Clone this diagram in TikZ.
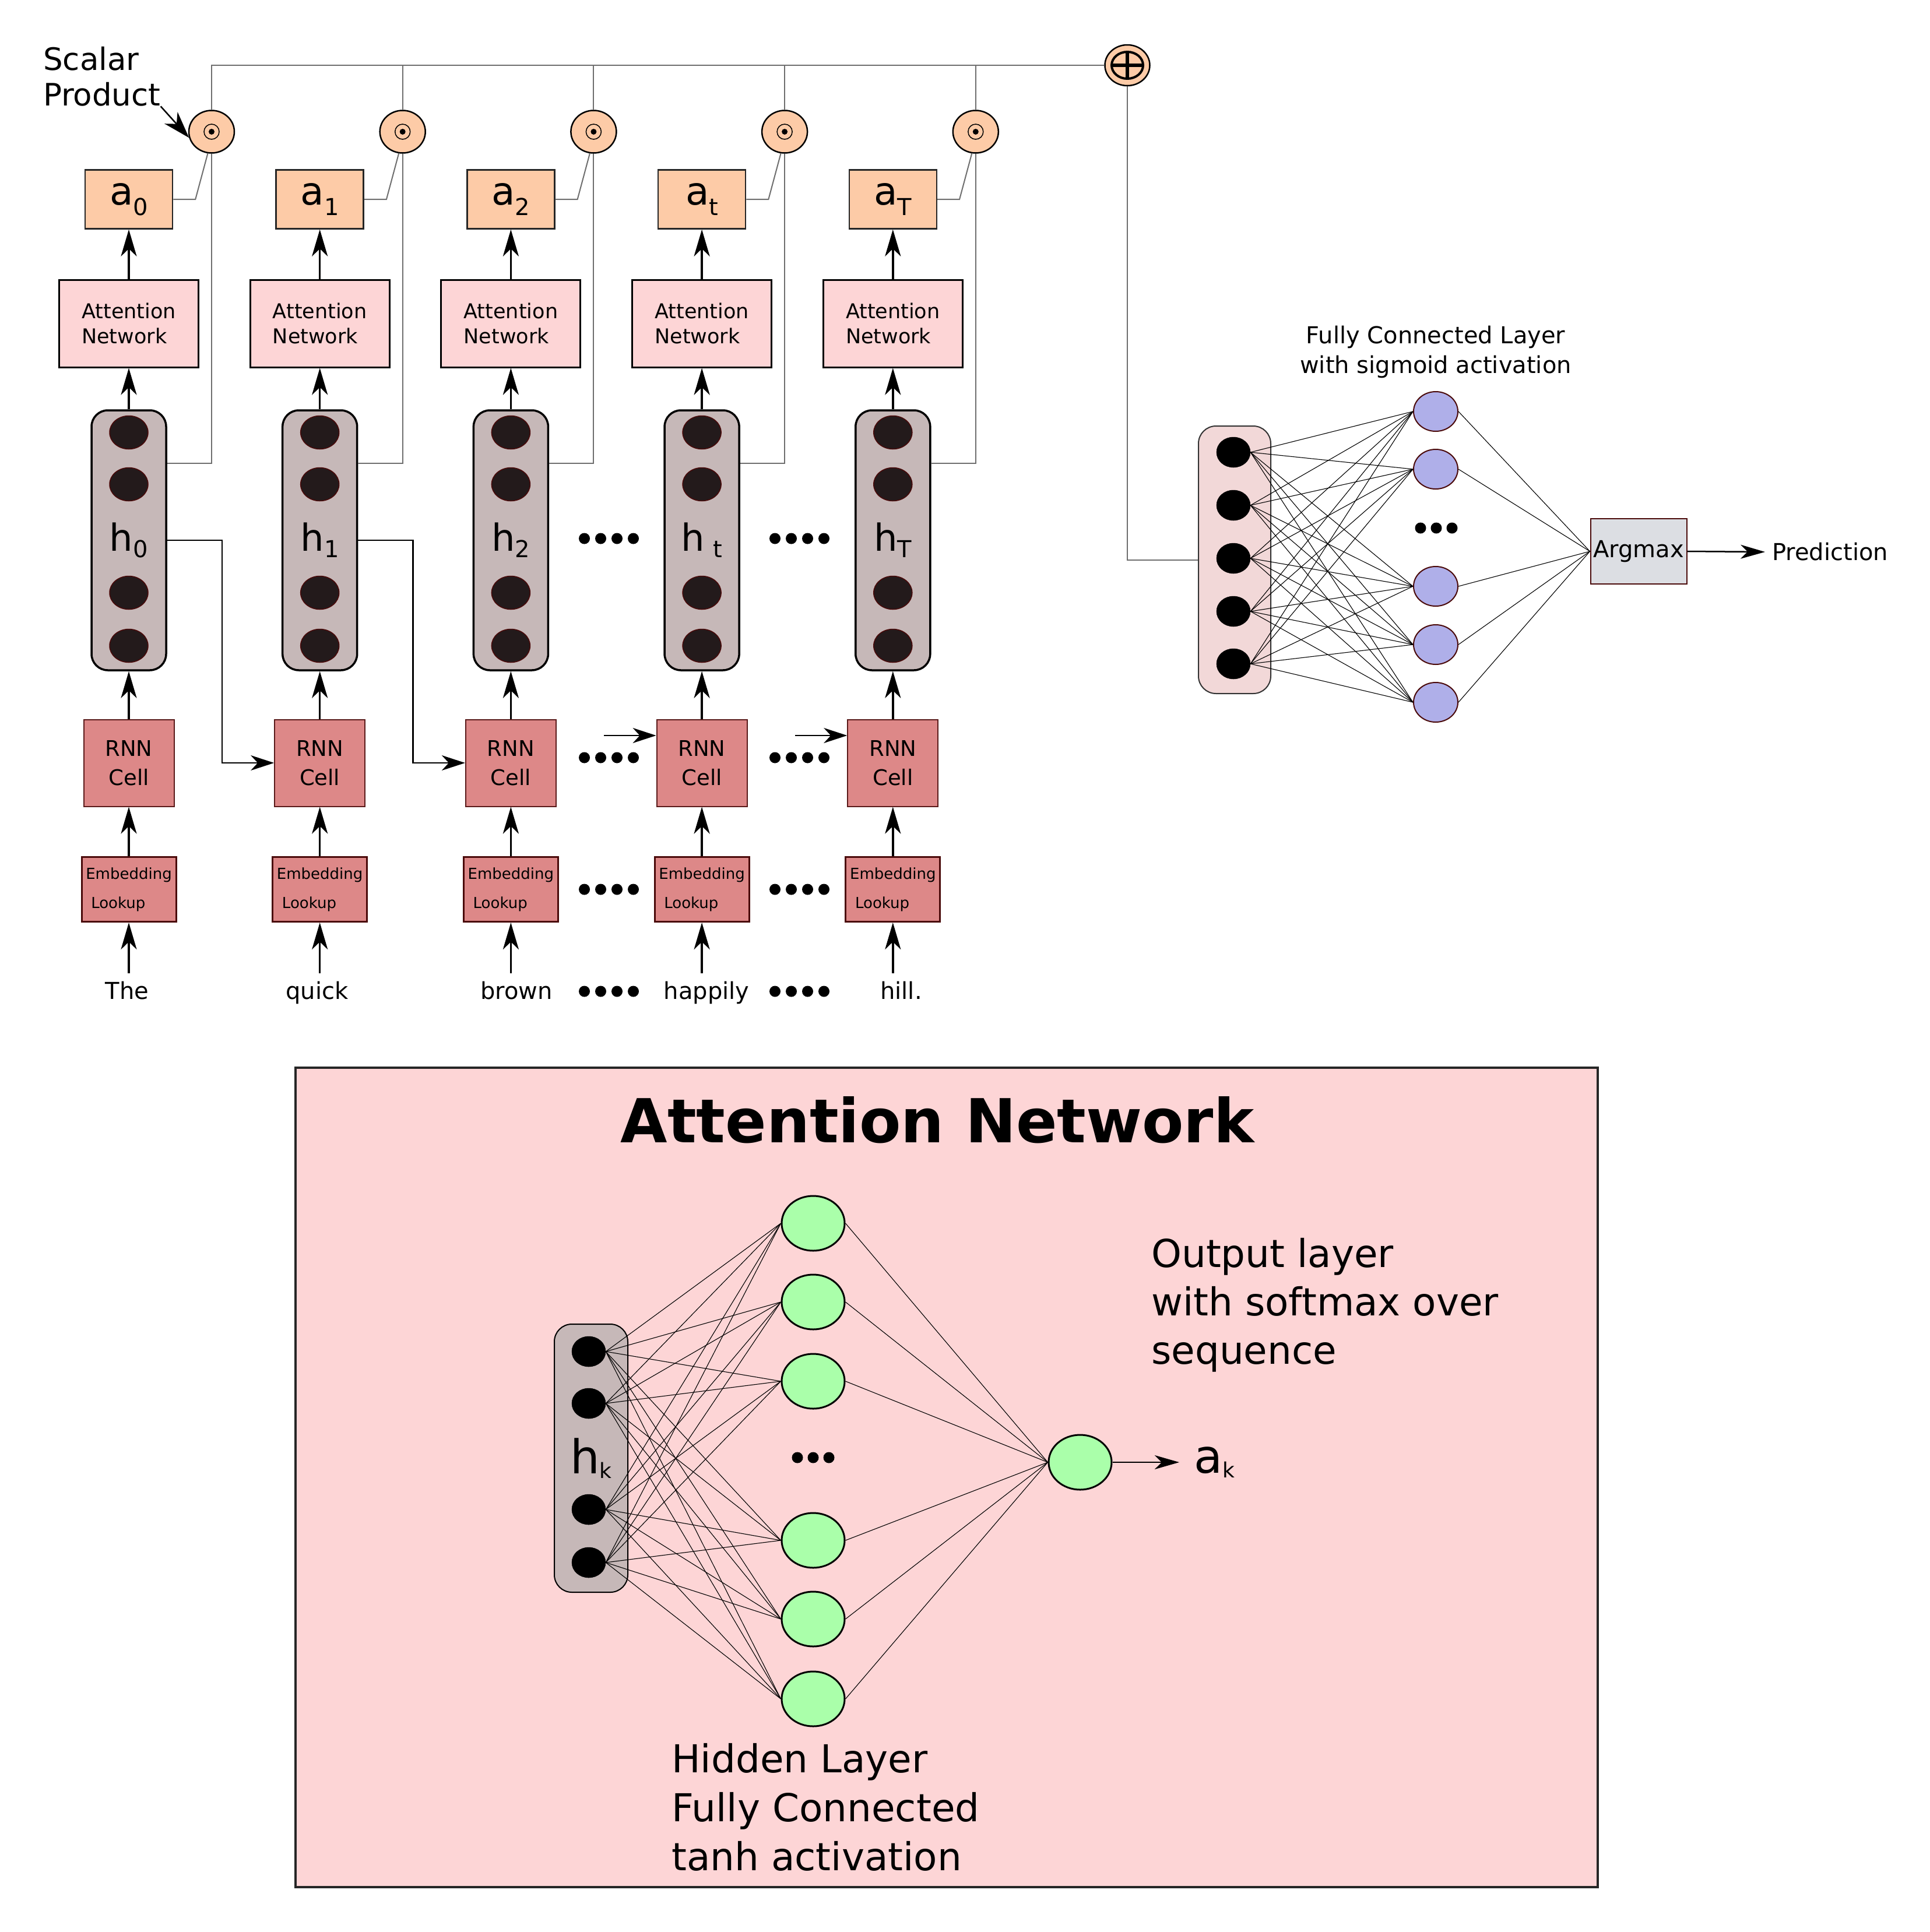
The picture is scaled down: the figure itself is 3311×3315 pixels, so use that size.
\documentclass[tikz,border=0pt]{standalone}
\usepackage{fontspec}
\setmainfont{DejaVu Sans}
\usetikzlibrary{arrows.meta,shapes.geometric}
\definecolor{peach}{HTML}{FDCBA7}
\definecolor{attpink}{HTML}{FDD5D6}
\definecolor{hgray}{HTML}{C6B8B8}
\definecolor{hdark}{HTML}{231A1B}
\definecolor{hnborder}{HTML}{4A0A0A}
\definecolor{rnnc}{HTML}{DD8888}
\definecolor{rnnborder}{HTML}{5A1A1A}
\definecolor{rpink}{HTML}{F2D8D8}
\definecolor{purp}{HTML}{AFAFE9}
\definecolor{grn}{HTML}{AAFFAA}
\definecolor{argc}{HTML}{DCDEE3}
\definecolor{glc}{HTML}{6E6E6E}
\newcommand\myfs[2]{\fontsize{#1pt}{#2pt}\selectfont}
\newcommand\sublbl[5]{{\myfs{#1}{#1}#2}\raisebox{-#5pt}{\myfs{#3}{#3}#4}}
\begin{document}
\begin{tikzpicture}[x=1pt,y=-1pt,
  arr/.style={line width=3.5pt,-{Stealth[length=46pt,width=27pt,inset=13pt]}},
  arrr/.style={line width=2.5pt,-{Stealth[length=40pt,width=26pt,inset=12pt]}},
  arr3/.style={line width=2.5pt,-{Stealth[length=42pt,width=24pt,inset=12pt]}},
  gl/.style={line width=2pt,draw=glc},
  nl/.style={line width=1.1pt,draw=black},
  odot/.style={ellipse,draw=black,line width=2.5pt,fill=peach,minimum width=78pt,minimum height=73pt,inner sep=0pt},
  plusc/.style={ellipse,draw=black,line width=2.5pt,fill=peach,minimum width=77pt,minimum height=70pt,inner sep=0pt},
  abox/.style={draw=black!85,line width=2.5pt,fill=peach,minimum width=150pt,minimum height=101pt,inner sep=0pt},
  attbox/.style={draw=black,line width=3pt,fill=attpink,minimum width=239pt,minimum height=150pt,inner sep=0pt,align=left,font=\myfs{35}{43}},
  hbox/.style={draw=black,line width=3.5pt,fill=hgray,rounded corners=28pt,minimum width=128pt,minimum height=446pt,inner sep=0pt},
  hn/.style={ellipse,draw=hnborder,line width=1.5pt,fill=hdark,minimum width=66pt,minimum height=57pt,inner sep=0pt},
  rnn/.style={draw=rnnborder,line width=2pt,fill=rnnc,minimum width=155pt,minimum height=149pt,inner sep=0pt,align=center,font=\myfs{37}{50}},
  emb/.style={draw=hnborder,line width=3pt,fill=rnnc,minimum width=162pt,minimum height=111pt,inner sep=0pt,align=left,font=\myfs{26}{50}},
  word/.style={font=\myfs{40}{40},inner sep=0pt,text height=44pt,anchor=base},
  rbox/.style={draw=black!80,line width=2pt,fill=rpink,rounded corners=30pt,minimum width=124pt,minimum height=459pt,inner sep=0pt},
  bn/.style={ellipse,fill=black,draw=black,line width=0.5pt,minimum width=58pt,minimum height=52pt,inner sep=0pt},
  pn/.style={ellipse,draw=hnborder,line width=2pt,fill=purp,minimum width=76pt,minimum height=68pt,inner sep=0pt},
  gn/.style={ellipse,draw=black,line width=3pt,fill=grn,minimum width=108pt,minimum height=94pt,inner sep=0pt},
  argb/.style={draw=hnborder,line width=2pt,fill=argc,minimum width=165pt,minimum height=112pt,inner sep=0pt,font=\myfs{40}{40}},
  fourdots/.pic={\foreach \k in {-1.5,-0.5,0.5,1.5} \fill (\k*28,0) circle[radius=9.5pt];},
  threedots/.pic={\foreach \k in {-1,0,1} \fill (\k*27,0) circle[radius=9.5pt];}
]
\useasboundingbox (0,0) rectangle (3311,3315);
\fill[white] (0,0) rectangle (3311,3315);

% summation node
\node[plusc] (plus) at (1934,112) {};
\draw[line width=4pt] (plus.center) ellipse[x radius=27pt,y radius=23pt];
\draw[line width=6pt] (plus.center) ++(-27,0) -- ++(54,0);
\draw[line width=6pt] (plus.center) ++(0,-23) -- ++(0,46);

% columns
\foreach \i/\cx/\asub/\hsub/\wrd/\wx in {0/221/0/0/The/218,1/548.7/1/1/quick/544,2/876.4/2/2/brown/886,3/1204.1/t/{\hspace{14pt}t}/happily/1212,4/1531.8/T/T/hill./1546}{
  \node[odot] (o\i) at (\cx+142,226) {};
  \draw[line width=1.5pt] (o\i.center) circle[radius=13pt];
  \fill (o\i.center) circle[radius=5pt];
  \node[abox] (a\i) at (\cx,342) {\sublbl{66}{a}{40}{\asub}{18}};
  \node[attbox] (n\i) at (\cx,555) {Attention\\Network};
  \node[hbox] (h\i) at (\cx,927) {\sublbl{64}{h}{40}{\hsub}{11}};
  \foreach \ny in {742,831,1017,1108} \node[hn] (hn\i-\ny) at (\cx,\ny) {};
  \node[rnn] (r\i) at (\cx,1309) {RNN\\Cell};
  \node[emb] (e\i) at (\cx,1526) {Embedding\\\hspace*{9pt}Lookup};
  \node[word] (w\i) at (\wx,1714) {\wrd};
  \draw[arr] (w\i.north -| e\i.south) -- (e\i.south);
  \draw[arr] (e\i.north) -- (r\i.south);
  \draw[arr] (r\i.north) -- (h\i.south);
  \draw[arr] (h\i.north) -- (n\i.south);
  \draw[arr] (n\i.north) -- (a\i.south);
  \draw[gl] (a\i.east) -- ++(38,0) -- (o\i.260);
  \draw[gl] (h\i.east) ++(0,-132) -| (o\i.south);
  \draw[gl] (o\i.north) -- (o\i.north |- plus.west);
}
\draw[gl] (o0.north) |- (plus.west);

% recurrent connections
\draw[arrr] (h0.east) -- ++(94,0) |- (r1.west);
\draw[arrr] (h1.east) -- ++(94,0) |- (r2.west);
\coordinate (ct) at (1036,1262);
\coordinate (cT) at (1363.8,1262);
\draw[arrr] (ct) -- (ct -| r3.west);
\draw[arrr] (cT) -- (cT -| r4.west);

% ellipsis dots
\foreach \dx in {1044.5,1371.5}
  \foreach \dy in {924,1300,1526,1701}
    \pic at (\dx,\dy) {fourdots};

% Scalar product label
\node[align=left,anchor=north west,inner sep=0pt,font=\myfs{53}{61}] (sp) at (74,80) {Scalar\\Product};
\draw[line width=2.5pt,-{Stealth[length=46pt,width=30pt,inset=14pt]}] (sp.south east) -- (o0.195);

% right network
\node[rbox] (rb) at (2118,960.5) {};
\draw[gl] (plus.south) |- (rb.west);
\foreach \j/\y in {1/776,2/867,3/958,4/1049,5/1139} \node[bn] (b\j) at (2116,\y) {};
\foreach \j/\y in {1/706,2/805,3/1006,4/1106,5/1205} \node[pn] (p\j) at (2463,\y) {};
\pic at (2464,906) {threedots};
\node[argb] (am) at (2811,946) {Argmax};
\foreach \j in {1,...,5}
  \foreach \k in {1,...,5}
    \draw[nl] (b\j.east) -- (p\k.west);
\foreach \k in {1,...,5} \draw[nl] (p\k.east) -- (am.west);
\node[anchor=west,inner xsep=12pt,inner ysep=0pt,font=\myfs{40}{40}] (pred) at (3028,947) {Prediction};
\draw[arr3] (am.east) -- (pred.west);
\node[align=center,font=\myfs{40}{51}] (fcl) at (2463,604) {Fully Connected Layer\\with sigmoid activation};

% attention network detail
\node[draw=black!85,line width=3.5pt,fill=attpink,minimum width=2234pt,minimum height=1406pt,inner sep=0pt] (fr) at (1624,2535) {};
\node[font=\bfseries\myfs{104}{104}] (title) at (1608,1922) {Attention Network};
\node[hbox,line width=2pt,minimum width=126pt,minimum height=460pt,rounded corners=30pt] (hk) at (1014,2502) {\sublbl{80}{h}{36}{k}{8}};
\foreach \j/\y in {1/2319,2/2408,3/2590,4/2681} \node[bn] (k\j) at (1010,\y) {};
\foreach \j/\y in {1/2099,2/2234,3/2370,4/2643,5/2778,6/2915} \node[gn] (g\j) at (1395,\y) {};
\pic at (1395,2501) {threedots};
\node[gn] (go) at (1853,2509) {};
\foreach \j in {1,...,4}
  \foreach \k in {1,...,6}
    \draw[nl] (k\j.east) -- (g\k.west);
\foreach \k in {1,...,6} \draw[nl] (g\k.east) -- (go.west);
\node[anchor=west,inner xsep=25pt,inner ysep=0pt] (ak) at (2023,2509) {\sublbl{80}{a}{36}{k}{8}};
\draw[arr3] (go.east) -- (ak.west);
\node[anchor=west,align=left,inner sep=0pt,font=\myfs{66}{83}] (outl) at (1975,2239) {Output layer\\with softmax over\\sequence};
\node[anchor=west,align=left,inner sep=0pt,font=\myfs{66}{84}] (hidl) at (1152,3101) {Hidden Layer\\Fully Connected\\tanh activation};
\end{tikzpicture}
\end{document}
